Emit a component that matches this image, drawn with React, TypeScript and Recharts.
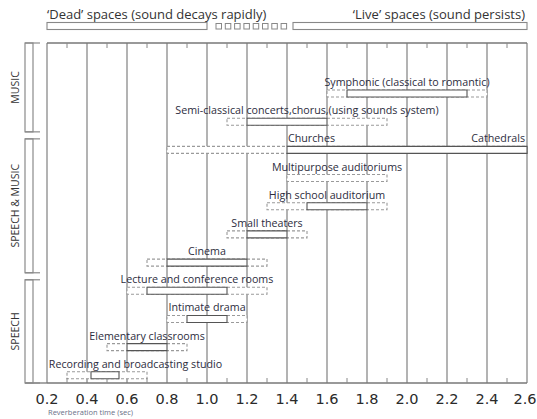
import { ComposedChart, Bar, XAxis, YAxis, CartesianGrid, LabelList } from "recharts";

const rooms = [
  "Symphonic (classical to romantic)",
  "Semi-classical concerts,chorus,(using sounds system)",
  "Churches / Cathedrals",
  "Multipurpose auditoriums",
  "High school auditorium",
  "Small theaters",
  "Cinema",
  "Lecture and conference rooms",
  "Intimate drama",
  "Elementary classrooms",
  "Recording and broadcasting studio",
];
// extended range (dashed) and optimal range (solid), seconds
const rangeLow = [1.6, 1.1, 0.8, 1.4, 1.3, 1.1, 0.7, 0.6, 0.8, 0.5, 0.3];
const rangeHigh = [2.4, 1.9, 2.6, 1.9, 1.9, 1.5, 1.3, 1.3, 1.2, 0.9, 0.7];
const optimalLow = [1.7, 1.2, 1.4, null, 1.5, 1.2, 0.8, 0.7, 0.9, 0.6, 0.42];
const optimalHigh = [2.3, 1.6, 2.6, null, 1.8, 1.4, 1.2, 1.1, 1.1, 0.8, 0.56];

const groups = ["MUSIC", "SPEECH & MUSIC", "SPEECH"];
const groupSizes = [2, 5, 4];

const timeTicks = [0.2, 0.4, 0.6, 0.8, 1.0, 1.2, 1.4, 1.6, 1.8, 2.0, 2.2, 2.4, 2.6];
const minorTicks = [0.3, 0.5, 0.7, 0.9, 1.1, 1.3, 1.5, 1.7, 1.9, 2.1, 2.3, 2.5];
const deadRange = [0.2, 1.0];
const liveRange = [1.43, 2.6];

const data = rooms.map((room, i) => ({
  room,
  range: [rangeLow[i], rangeHigh[i]],
  optimal: optimalLow[i] == null ? null : [optimalLow[i], optimalHigh[i]],
}));

const W = 537;
const H = 419;
const left = 47;
const right = 527;
const top = 43;
const bottom = 383;
const padTop = 36;
const padBottom = -6;
const band = (bottom - top - padTop - padBottom) / rooms.length;
const sx = (v: number) => left + ((v - 0.2) / 2.4) * (right - left);

const labelFont = "'Open Sans', sans-serif";
const labelColor = "#2d2d40";
const labelSize = 10.7;

function RangeLabel(props: any) {
  const { x, y, width, value } = props;
  const parts = String(value).split(" / ");
  if (parts.length > 1) {
    return (
      <text x={x + width - 2} y={y - 4} textAnchor="end" fontSize={labelSize} fontFamily={labelFont} fill={labelColor}>
        {parts[1]}
      </text>
    );
  }
  // centred over the range, but never past the left edge of the plot
  const approxWidth = String(value).length * labelSize * 0.49;
  const cx = Math.max(x + width / 2, left + 2 + approxWidth / 2);
  return (
    <text x={cx} y={y - 4} textAnchor="middle" fontSize={labelSize} fontFamily={labelFont} fill={labelColor}>
      {value}
    </text>
  );
}

function OptimalLabel(props: any) {
  const { x, y, value } = props;
  const parts = String(value).split(" / ");
  if (parts.length < 2) return null;
  return (
    <text x={x + 1} y={y - 4} textAnchor="start" fontSize={labelSize} fontFamily={labelFont} fill={labelColor}>
      {parts[0]}
    </text>
  );
}

function TimeTick(props: any) {
  const { x, y, payload, index } = props;
  const last = index === timeTicks.length - 1;
  return (
    <text
      x={last ? x - 2 : x}
      y={y + 13}
      textAnchor="middle"
      fontSize={14.5}
      fontFamily="'DejaVu Sans', sans-serif"
      fill="#2a2a2a"
    >
      {Number(payload.value).toFixed(1)}
    </text>
  );
}

function Overlay() {
  let row = 0;
  const brackets = groups.map((g, gi) => {
    const y0 = gi === 0 ? top : top + padTop + row * band + 3.5;
    row += groupSizes[gi];
    const y1 = gi === groups.length - 1 ? bottom : top + padTop + row * band - 3.5;
    const mid = (y0 + y1) / 2;
    return (
      <g key={g}>
        <rect x={25} y={y0} width={8} height={y1 - y0} fill="none" stroke="#8a8a8a" strokeWidth={1.2} />
        <line x1={25} x2={40} y1={y0} y2={y0} stroke="#8a8a8a" strokeWidth={1.2} />
        <line x1={25} x2={40} y1={y1} y2={y1} stroke="#8a8a8a" strokeWidth={1.2} />
        <text
          x={15}
          y={mid}
          textAnchor="middle"
          dominantBaseline="central"
          transform={`rotate(-90 15 ${mid})`}
          fontSize={10.5}
          fontFamily={labelFont}
          fill="#333"
        >
          {g}
        </text>
      </g>
    );
  });

  const deadEnd = sx(deadRange[1]);
  const liveStart = sx(liveRange[0]);
  const squares = Array.from({ length: 8 }, (_, i) => deadEnd + 9 + i * 9.3);

  return (
    <svg width={W} height={H} style={{ position: "absolute", left: 0, top: 0, pointerEvents: "none" }}>
      <line x1={left} x2={right} y1={top} y2={top} stroke="#777" strokeWidth={1.3} />
      <line x1={25} x2={left} y1={bottom} y2={bottom} stroke="#777" strokeWidth={1.3} />
      {minorTicks.map((t) => (
        <g key={t}>
          <line x1={sx(t)} x2={sx(t)} y1={top} y2={top + 5} stroke="#888" />
          <line x1={sx(t)} x2={sx(t)} y1={bottom - 5} y2={bottom} stroke="#888" />
        </g>
      ))}
      {brackets}
      <text x={sx(deadRange[0])} y={19} fontSize={13} fontFamily={labelFont} fill="#333">
        ‘Dead’ spaces (sound decays rapidly)
      </text>
      <text x={sx(liveRange[1]) - 2} y={19} textAnchor="end" fontSize={13} fontFamily={labelFont} fill="#333">
        ‘Live’ spaces (sound persists)
      </text>
      <rect x={sx(deadRange[0])} y={22.5} width={deadEnd - sx(deadRange[0])} height={7} fill="#fff" stroke="#888" strokeWidth={1.1} />
      {squares.map((s) => (
        <rect key={s} x={s} y={23.5} width={5.5} height={5.5} fill="#fff" stroke="#888" strokeWidth={1} />
      ))}
      <rect x={liveStart} y={22.5} width={sx(liveRange[1]) - liveStart} height={7} fill="#fff" stroke="#888" strokeWidth={1.1} />
      <text x={48} y={415} fontSize={7.5} fontFamily={labelFont} fill="#6a7088">
        Reverberation time  (sec)
      </text>
    </svg>
  );
}

export default function App() {
  return (
    <div style={{ position: "absolute", left: 0, top: 0, width: W, height: H, background: "#fff" }}>
      <ComposedChart
        width={W}
        height={H}
        data={data}
        layout="vertical"
        margin={{ top: top, right: W - right, bottom: 6, left: left }}
      >
        <CartesianGrid yAxisId="range" vertical horizontal={false} stroke="#8a8a8a" strokeWidth={1.3} />
        <XAxis
          type="number"
          domain={[0.2, 2.6]}
          ticks={timeTicks}
          tickLine={false}
          axisLine={{ stroke: "#777", strokeWidth: 1.3 }}
          tick={<TimeTick />}
          height={30}
          interval={0}
        />
        <YAxis yAxisId="range" type="category" dataKey="room" hide padding={{ top: padTop, bottom: padBottom }} />
        <YAxis yAxisId="optimal" type="category" dataKey="room" hide padding={{ top: padTop, bottom: padBottom }} />
        <Bar
          yAxisId="range"
          dataKey="range"
          barSize={7}
          fill="#fff"
          stroke="#9a9a9a"
          strokeWidth={1.1}
          strokeDasharray="3 2"
          isAnimationActive={false}
        >
          <LabelList dataKey="room" content={RangeLabel} />
        </Bar>
        <Bar
          yAxisId="optimal"
          dataKey="optimal"
          barSize={7}
          fill="#fff"
          stroke="#555"
          strokeWidth={1.1}
          isAnimationActive={false}
        >
          <LabelList dataKey="room" content={OptimalLabel} />
        </Bar>
      </ComposedChart>
      <Overlay />
    </div>
  );
}
